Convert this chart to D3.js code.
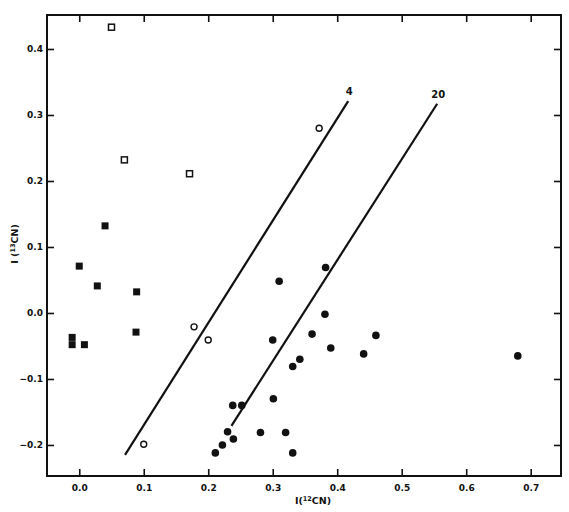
<!DOCTYPE html>
<meta charset="utf-8">
<script src="https://d3js.org/d3.v7.min.js"></script>

<style>
body {
  margin: 0;
  background: #fff;
}
svg {
  display: block;
}
text {
  font-family: 'DejaVu Sans', sans-serif;
  font-weight: bold;
  fill: #111;
}
.tick text {
  font-size: 9px;
}
.tick line {
  stroke: #111;
  stroke-width: 1.6;
}
.domain {
  display: none;
}
.frame {
  fill: none;
  stroke: #111;
  stroke-width: 2;
}
.fit {
  stroke: #111;
  stroke-width: 2.2;
}
text.title {
  font-size: 9.5px;
}
text.linelabel {
  font-size: 10px;
}
</style>

<svg width="569" height="512"></svg>

<script>
  // tick values
  const xTicks = [0.0, 0.1, 0.2, 0.3, 0.4, 0.5, 0.6, 0.7];
  const yTicks = [-0.2, -0.1, 0.0, 0.1, 0.2, 0.3, 0.4];

  // data points [I(12CN), I(13CN)]
  const openSquares = [[0.05, 0.433], [0.07, 0.232], [0.171, 0.211]];
  const openCircles = [[0.372, 0.28], [0.178, -0.021], [0.2, -0.041], [0.1, -0.199]];
  const filledSquares = [
    [0.04, 0.132], [0.0, 0.071], [0.028, 0.041], [0.089, 0.032],
    [0.088, -0.029], [-0.011, -0.037], [-0.011, -0.048], [0.008, -0.048]
  ];
  const filledCircles = [
    [0.382, 0.069], [0.31, 0.048], [0.381, -0.002], [0.361, -0.032],
    [0.46, -0.034], [0.3, -0.041], [0.39, -0.053], [0.441, -0.062],
    [0.342, -0.07], [0.331, -0.081], [0.301, -0.13], [0.238, -0.14],
    [0.252, -0.14], [0.23, -0.18], [0.281, -0.181], [0.32, -0.181],
    [0.239, -0.191], [0.222, -0.2], [0.211, -0.212], [0.331, -0.212],
    [0.68, -0.065]
  ];

  // the two parallel lines
  const lineLabels = ['4', '20'];
  const lineStarts = [[0.071, -0.215], [0.236, -0.171]];
  const lineEnds = [[0.417, 0.321], [0.555, 0.317]];

  const svg = d3.select('svg');
  const margin = {top: 15, right: 8, bottom: 36, left: 47};
  const W = 569, H = 512;

  const x = d3.scaleLinear()
    .domain([-0.05, 0.747])
    .range([margin.left, W - margin.right]);

  const y = d3.scaleLinear()
    .domain([-0.247, 0.4515])
    .range([H - margin.bottom, margin.top]);

  const fmt = d3.format('.1f');

  // bottom axis with inward ticks
  svg.append('g')
    .attr('transform', `translate(0, ${y.range()[0]})`)
    .call(d3.axisBottom(x).tickValues(xTicks).tickFormat(fmt)
      .tickSizeInner(-7).tickSizeOuter(0).tickPadding(9));

  // top axis, ticks only
  svg.append('g')
    .attr('transform', `translate(0, ${y.range()[1]})`)
    .call(d3.axisTop(x).tickValues(xTicks).tickFormat('')
      .tickSizeInner(-7).tickSizeOuter(0));

  // left axis
  svg.append('g')
    .attr('transform', `translate(${x.range()[0]}, 0)`)
    .call(d3.axisLeft(y).tickValues(yTicks).tickFormat(fmt)
      .tickSizeInner(-7).tickSizeOuter(0).tickPadding(4));

  // right axis, ticks only
  svg.append('g')
    .attr('transform', `translate(${x.range()[1]}, 0)`)
    .call(d3.axisRight(y).tickValues(yTicks).tickFormat('')
      .tickSizeInner(-7).tickSizeOuter(0));

  svg.append('rect')
    .attr('class', 'frame')
    .attr('x', x.range()[0])
    .attr('y', y.range()[1])
    .attr('width', x.range()[1] - x.range()[0])
    .attr('height', y.range()[0] - y.range()[1]);

  // fitted lines
  svg.selectAll('line.fit')
    .data(lineLabels)
    .enter()
    .append('line')
    .attr('class', 'fit')
    .attr('x1', (d, i) => x(lineStarts[i][0]))
    .attr('y1', (d, i) => y(lineStarts[i][1]))
    .attr('x2', (d, i) => x(lineEnds[i][0]))
    .attr('y2', (d, i) => y(lineEnds[i][1]));

  svg.selectAll('text.linelabel')
    .data(lineLabels)
    .enter()
    .append('text')
    .attr('class', 'linelabel')
    .attr('x', (d, i) => x(lineEnds[i][0]) + 1)
    .attr('y', (d, i) => y(lineEnds[i][1]) - 6)
    .attr('text-anchor', 'middle')
    .text(d => d);

  // markers
  const sq = 6;
  svg.selectAll('rect.osq')
    .data(openSquares)
    .enter()
    .append('rect')
    .attr('x', d => x(d[0]) - sq / 2)
    .attr('y', d => y(d[1]) - sq / 2)
    .attr('width', sq)
    .attr('height', sq)
    .attr('fill', '#fff')
    .attr('stroke', '#111')
    .attr('stroke-width', 1.5);

  svg.selectAll('rect.fsq')
    .data(filledSquares)
    .enter()
    .append('rect')
    .attr('x', d => x(d[0]) - 3.5)
    .attr('y', d => y(d[1]) - 3.5)
    .attr('width', 7)
    .attr('height', 7)
    .attr('fill', '#111');

  svg.selectAll('circle.oc')
    .data(openCircles)
    .enter()
    .append('circle')
    .attr('cx', d => x(d[0]))
    .attr('cy', d => y(d[1]))
    .attr('r', 3)
    .attr('fill', '#fff')
    .attr('stroke', '#111')
    .attr('stroke-width', 1.4);

  svg.selectAll('circle.fc')
    .data(filledCircles)
    .enter()
    .append('circle')
    .attr('cx', d => x(d[0]))
    .attr('cy', d => y(d[1]))
    .attr('r', 3.8)
    .attr('fill', '#111');

  // axis titles
  const xt = svg.append('text')
    .attr('class', 'title')
    .attr('x', 313)
    .attr('y', 504)
    .attr('text-anchor', 'middle');
  xt.append('tspan').text('I(');
  xt.append('tspan').attr('font-size', '6.5px').attr('dy', -3).text('12');
  xt.append('tspan').attr('dy', 3).text('CN)');

  const yt = svg.append('text')
    .attr('class', 'title')
    .attr('transform', 'translate(18, 244) rotate(-90)')
    .attr('text-anchor', 'middle');
  yt.append('tspan').text('I (');
  yt.append('tspan').attr('font-size', '6.5px').attr('dy', -3).text('13');
  yt.append('tspan').attr('dy', 3).text('CN)');
</script>
